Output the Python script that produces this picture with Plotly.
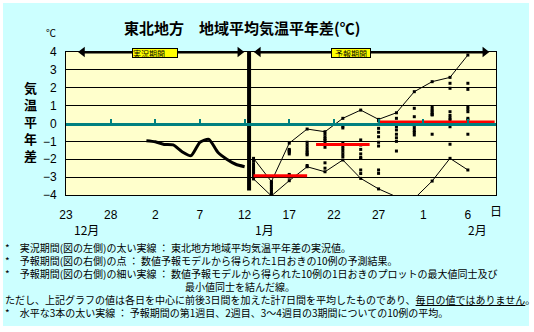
import pandas as pd
import plotly.graph_objects as go

# ---------------- data ----------------
axis_start = pd.Timestamp("2006-12-23")
axis_end = axis_start + pd.Timedelta(days=48.15)

# observed 7-day running mean anomaly (thick line)
obs_dates = pd.date_range("2007-01-01", "2007-01-12", freq="D")
obs_anom = [-0.96, -1.02, -1.17, -1.20, -1.58, -1.80, -1.05, -0.89, -1.61, -2.00, -2.28, -2.42]

# forecast: 10 ensemble members every other day
fc_dates = pd.date_range("2007-01-13", "2007-02-06", freq="2D")
fc_members = [
    [-1.95, -2.10, -2.25, -2.40, -2.50, -2.60, -2.70, -2.80, -2.95, -3.10],
    [-3.25, -3.30, -3.40, -3.50, -3.60, -3.70, -3.80, -3.90, -4.00, -4.05],
    [-1.10, -1.45, -1.50, -1.55, -1.60, -1.70, -2.85, -2.90, -3.00, -3.20],
    [-0.31, -1.05, -1.20, -1.35, -1.50, -1.60, -1.70, -1.75, -2.35, -2.42],
    [-0.46, -0.60, -0.75, -0.85, -0.95, -1.05, -1.33, -2.20, -2.50, -2.70],
    [0.29, -0.15, -0.25, -1.10, -1.25, -1.40, -1.55, -1.70, -1.85, -2.04],
    [0.75, -0.92, -1.20, -1.45, -1.70, -1.90, -1.95, -2.60, -2.80, -3.07],
    [0.23, 0.15, -0.27, -0.49, -0.74, -1.05, -1.26, -2.60, -2.79, -3.66],
    [0.60, 0.29, 0.05, -0.18, -0.36, -0.60, -0.80, -1.00, -1.54, -4.10],
    [1.78, 0.85, 0.38, 0.05, -0.10, -0.25, -0.40, -0.50, -0.64, -4.20],
    [2.34, 0.94, 0.80, 0.70, 0.60, 0.50, 0.48, -0.03, -0.60, -3.22],
    [2.58, 2.25, 1.97, 0.66, 0.45, 0.30, 0.20, -0.18, -1.16, -1.95],
    [3.83, 2.25, 1.91, 0.94, 0.80, 0.66, 0.29, 0.20, -0.60, -2.60],
]

# ensemble mean for week 1, week 2 and weeks 3-4
period_starts = ["2007-01-13", "2007-01-20", "2007-01-27"]
period_ends = ["2007-01-19", "2007-01-26", "2007-02-09"]
period_means = [-2.92, -1.17, 0.08]

tick_dates = pd.date_range(axis_start, periods=10, freq="5D")
tick_labels = ["23", "28", "2", "7", "12", "17", "22", "27", "1", "6"]
y_ticks = [-4, -3, -2, -1, 0, 1, 2, 3, 4]

boundary = pd.Timestamp("2007-01-12 12:00")

# ---------------- styling helpers ----------------
JP = "Noto Sans CJK JP"
NUM = "Liberation Sans"
TEAL = "#008080"
W, H = 534, 332
L, R, T, B = 66, 38, 52, 137
PW, PH = W - L - R, H - T - B


def xp(px):
    return (px - L) / PW


def yp(py):
    return (H - B - py) / PH


def day(d):
    return axis_start + pd.Timedelta(days=d)


fig = go.Figure()

# ensemble member dots
dot_x, dot_y = [], []
for d, members in zip(fc_dates, fc_members):
    for v in members:
        dot_x.append(d)
        dot_y.append(v)
fig.add_trace(go.Scatter(x=dot_x, y=dot_y, mode="markers",
                         marker=dict(symbol="square", size=3, color="black",
                                     line=dict(width=0))))

# envelope of the ensemble
fc_max = [max(m) for m in fc_members]
fc_min = [min(m) for m in fc_members]
for env in (fc_max, fc_min):
    fig.add_trace(go.Scatter(x=fc_dates, y=env, mode="lines",
                             line=dict(color="black", width=1)))

# period means
for s, e, m in zip(period_starts, period_ends, period_means):
    fig.add_trace(go.Scatter(x=[s, e], y=[m, m], mode="lines",
                             line=dict(color="red", width=3)))

# observed
fig.add_trace(go.Scatter(x=obs_dates, y=obs_anom, mode="lines",
                         line=dict(color="black", width=3, shape="spline", smoothing=0.6)))

# boundary between observed and forecast periods
fig.add_trace(go.Scatter(x=[boundary, boundary], y=[4, -3.75], mode="lines",
                         line=dict(color="black", width=4)))

# period arrows along the top
for a, b in ((1.85, 19.46), (21.54, 46.9)):
    fig.add_trace(go.Scatter(x=[day(a), day(b)], y=[4, 4], mode="lines+markers",
                             line=dict(color="black", width=3),
                             marker=dict(symbol=["triangle-left", "triangle-right"],
                                         size=9, color="black", line=dict(width=0)),
                             cliponaxis=False))

# helper trace for the zero-line axis
fig.add_trace(go.Scatter(x=[axis_start], y=[0], xaxis="x2", mode="markers",
                         marker=dict(opacity=0), hoverinfo="skip"))

fig.update_traces(showlegend=False)

ann = []
ann.append(dict(text="<b>東北地方\u3000地域平均気温平年差(℃)</b>", x=xp(242), y=yp(27),
                font=dict(family=JP, size=15, color="black")))
ann.append(dict(text="℃", x=xp(51), y=yp(32), font=dict(family=JP, size=10, color="black")))
ann.append(dict(text="<b>気<br>温<br>平<br>年<br>差</b>", x=xp(30), y=yp(121),
                font=dict(family=JP, size=13, color="black")))
for txt, px in (("12月", 86), ("1月", 264), ("2月", 477)):
    ann.append(dict(text=txt, x=xp(px), y=yp(229), font=dict(family=JP, size=12, color="black")))
ann.append(dict(text="日", x=xp(496), y=yp(210), font=dict(family=JP, size=12, color="black")))

# period labels on the arrows
ann.append(dict(text="実況期間", x=xp(155), y=yp(53), width=44, height=8, align="left",
                bgcolor="#FFFF00", bordercolor="black", borderwidth=1, borderpad=0,
                font=dict(family=JP, size=8, color="black")))
ann.append(dict(text="予報期間", x=xp(351), y=yp(53), width=38, height=8, align="center",
                bgcolor="#FFFF00", bordercolor="black", borderwidth=1, borderpad=0,
                font=dict(family=JP, size=8, color="black")))

# footnotes, one block
notes = [
    "*\u3000実況期間(図の左側)の太い実線 ： 東北地方地域平均気温平年差の実況値。",
    "*\u3000予報期間(図の右側)の点 ： 数値予報モデルから得られた1日おきの10例の予測結果。",
    "*\u3000予報期間(図の右側)の細い実線 ： 数値予報モデルから得られた10例の1日おきのプロットの最大値同士及び",
    "\u3000" * 18 + "最小値同士を結んだ線。",
    "ただし、上記グラフの値は各日を中心に前後3日間を加えた計7日間を平均したものであり、<u>毎日の値ではありません</u>。",
    "*\u3000水平な3本の太い実線 ： 予報期間の第1週目、2週目、3～4週目の3期間についての10例の平均。",
]
ann.append(dict(text="<br>".join(notes), x=xp(3), y=yp(238), xanchor="left", yanchor="top",
                align="left", font=dict(family=JP, size=10, color="black")))

for a in ann:
    a.setdefault("xanchor", "center")
    a.setdefault("yanchor", "middle")
    a.update(xref="paper", yref="paper", showarrow=False)

fig.update_layout(
    width=W, height=H, autosize=False,
    margin=dict(l=L, r=R, t=T, b=B, pad=0),
    paper_bgcolor="#CCFFFF", plot_bgcolor="#FFFFCC",
    annotations=ann,
    shapes=[dict(type="rect", xref="paper", yref="paper",
                 x0=xp(0), x1=xp(532), y0=yp(329), y1=yp(0),
                 line=dict(color="white", width=6), fillcolor="rgba(0,0,0,0)", layer="above")],
    xaxis=dict(type="date", range=[axis_start, axis_end], tickvals=tick_dates, ticktext=tick_labels,
               showgrid=False, zeroline=False, showline=True, linecolor="black", linewidth=1,
               mirror=True, ticks="", ticklabelstandoff=9,
               tickfont=dict(family=NUM, size=12, color="black")),
    xaxis2=dict(type="date", overlaying="x", matches="x", anchor="free", position=0.5, side="bottom",
                range=[axis_start, axis_end], tickvals=tick_dates, showticklabels=False,
                showgrid=False, zeroline=False, showline=True, linecolor=TEAL, linewidth=2.5,
                ticks="inside", ticklen=4, tickwidth=2, tickcolor=TEAL),
    yaxis=dict(range=[-4, 4], tickvals=y_ticks, showgrid=True, gridcolor="black", gridwidth=1,
               zeroline=False, showline=True, linecolor="black", linewidth=1, mirror=True,
               ticks="", ticklabelstandoff=6, tickfont=dict(family=NUM, size=12, color="black")),
)

fig.write_html("out.html")
